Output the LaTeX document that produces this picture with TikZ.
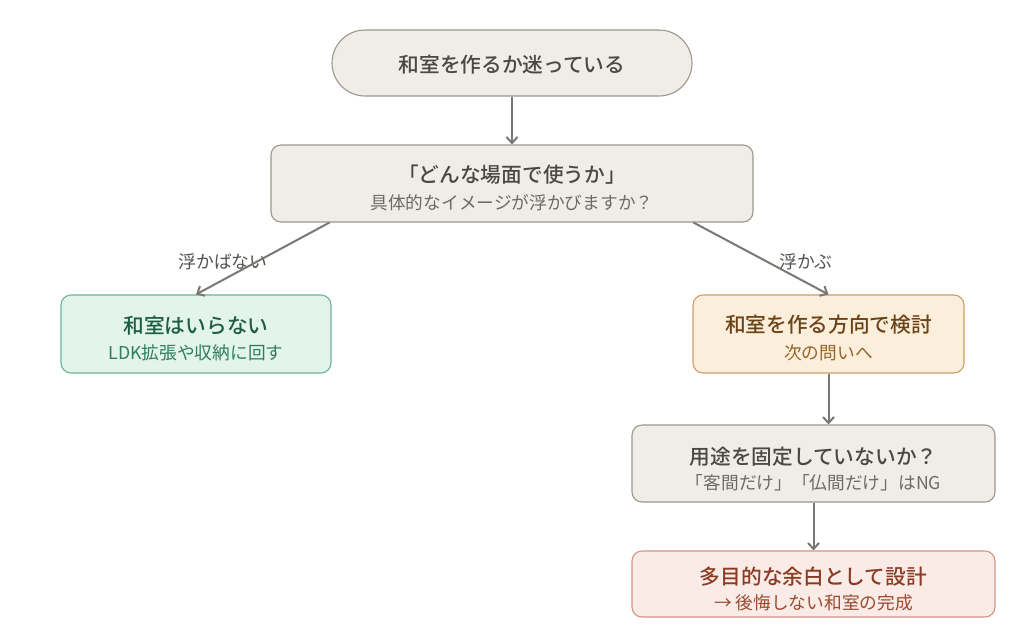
\documentclass[tikz,border=0pt]{standalone}
\usepackage{fontspec}
\setmainfont{Noto Sans CJK JP}[BoldFont={Noto Sans CJK JP Medium}]
\usetikzlibrary{arrows.meta}
\definecolor{gfill}{HTML}{F0EDE6}
\definecolor{gline}{HTML}{9B9890}
\definecolor{gtitle}{HTML}{4A4845}
\definecolor{gsub}{HTML}{6E6B66}
\definecolor{nfill}{HTML}{E3F4EC}
\definecolor{nline}{HTML}{6BB596}
\definecolor{ntitle}{HTML}{1F5E45}
\definecolor{nsub}{HTML}{2F7E5E}
\definecolor{ofill}{HTML}{FBEEDB}
\definecolor{oline}{HTML}{C9A06A}
\definecolor{otitle}{HTML}{6B4317}
\definecolor{osub}{HTML}{95652A}
\definecolor{rfill}{HTML}{FAEBE6}
\definecolor{rline}{HTML}{D49484}
\definecolor{rtitle}{HTML}{8A3B23}
\definecolor{rsub}{HTML}{9C4A30}
\definecolor{arrc}{HTML}{7A7874}
\definecolor{lblc}{HTML}{555350}
\tikzset{
  box/.style={rectangle, rounded corners=10pt, line width=1.1pt, inner sep=0pt},
  graybox/.style={box, draw=gline, fill=gfill},
  greenbox/.style={box, draw=nline, fill=nfill},
  orangebox/.style={box, draw=oline, fill=ofill},
  redbox/.style={box, draw=rline, fill=rfill},
  ttl/.style={font=\fontsize{20.7}{24}\selectfont\bfseries, inner sep=0pt},
  sub/.style={font=\fontsize{17.7}{21}\selectfont, inner sep=0pt},
  lbl/.style={font=\fontsize{17.8}{21}\selectfont, text=lblc, inner sep=0pt},
  arr/.style={draw=arrc, line width=2pt, -{Straight Barb[length=6pt,width=11pt]}},
}
\begin{document}
\begin{tikzpicture}[x=1pt,y=-1pt]
\useasboundingbox[fill=white] (0,0) rectangle (1024,633);
% boxes
\node[graybox, rounded corners=33pt, minimum width=360pt, minimum height=66pt] (start) at (512,63) {};
\node[graybox, minimum width=482pt, minimum height=77pt] (q1) at (512,183.5) {};
\node[greenbox, minimum width=270pt, minimum height=78pt] (left) at (196,334) {};
\node[orangebox, minimum width=271pt, minimum height=78pt] (right) at (828.5,334) {};
\node[graybox, minimum width=363pt, minimum height=77pt] (q2) at (813.5,463.5) {};
\node[redbox, minimum width=363pt, minimum height=66pt] (final) at (813.5,584) {};
% texts
\node[ttl, text=gtitle] (startt) at (512,65) {和室を作るか迷っている};
\node[ttl, text=gtitle] (q1t) at (512,175) {「どんな場面で使うか」};
\node[sub, text=gsub] (q1s) at (512,203) {具体的なイメージが浮かびますか？};
\node[ttl, text=ntitle] (leftt) at (196,326) {和室はいらない};
\node[sub, text=nsub] (lefts) at (196,353) {LDK拡張や収納に回す};
\node[ttl, text=otitle] (rightt) at (828.5,325) {和室を作る方向で検討};
\node[sub, text=osub] (rights) at (828.5,353) {次の問いへ};
\node[ttl, text=gtitle] (q2t) at (813.5,457) {用途を固定していないか？};
\node[sub, text=gsub] (q2s) at (813.5,483) {「客間だけ」「仏間だけ」はNG};
\node[ttl, text=rtitle] (finalt) at (813.5,577) {多目的な余白として設計};
\node[sub, text=rsub] (finals) at (813.5,603) {→ 後悔しない和室の完成};
% labels
\node[lbl] (lno) at (223,262) {浮かばない};
\node[lbl] (lyes) at (806,262) {浮かぶ};
% arrows
\draw[arr] (start.south) -- (q1.north);
\draw[arr] ([xshift=59pt]q1.south west) -- (left.north);
\draw[arr] ([xshift=-60pt]q1.south east) -- (right.north);
\draw[arr] (right.south) -- ([xshift=15pt]q2.north);
\draw[arr] (q2.south) -- (final.north);
\end{tikzpicture}
\end{document}
